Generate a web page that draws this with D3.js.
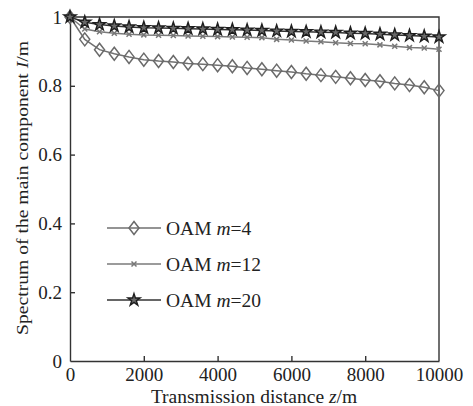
<!DOCTYPE html>
<html>
<head>
<meta charset="utf-8">
<script src="https://cdn.jsdelivr.net/npm/d3@7/dist/d3.min.js"></script>
<style>
  html, body { margin: 0; padding: 0; background: #fff; }
  svg { display: block; }
  text { font-family: "Liberation Serif", "DejaVu Serif", serif; fill: #222; }
</style>
</head>
<body>
<svg id="chart" width="473" height="406"></svg>
<script>
// Transmission distance (m), sampled every 400 m
const distances = d3.range(0, 10001, 400);

// Normalised spectrum of the main OAM component
const oam4 = [1.000, 0.935, 0.905, 0.893, 0.884, 0.876, 0.872, 0.869, 0.865, 0.863,
              0.860, 0.857, 0.852, 0.848, 0.844, 0.840, 0.835, 0.831, 0.826, 0.822,
              0.817, 0.813, 0.807, 0.802, 0.796, 0.786];
const oam12 = [1.000, 0.965, 0.957, 0.953, 0.950, 0.948, 0.947, 0.946, 0.945, 0.944,
               0.943, 0.942, 0.941, 0.940, 0.935, 0.933, 0.930, 0.928, 0.925, 0.923,
               0.922, 0.919, 0.915, 0.911, 0.910, 0.906];
const oam20 = [1.000, 0.985, 0.978, 0.974, 0.971, 0.969, 0.968, 0.967, 0.966, 0.965,
               0.964, 0.963, 0.962, 0.961, 0.959, 0.958, 0.957, 0.956, 0.955, 0.953,
               0.952, 0.950, 0.948, 0.946, 0.944, 0.942];

const xTicks = [0, 2000, 4000, 6000, 8000, 10000];
const yTicks = [0, 0.2, 0.4, 0.6, 0.8, 1];
const seriesNames = ["4", "12", "20"];

const svg = d3.select("#chart");
const x = d3.scaleLinear().domain([0, 10000]).range([70, 439]);
const y = d3.scaleLinear().domain([0, 1]).range([361, 17]);

const axisColor = "#333";
const tickFont = "19px";
const titleFont = "19.5px";

// Frame (top and right edges)
svg.append("path")
  .attr("d", `M${x(0)},${y(1)}H${x(10000)}V${y(0)}`)
  .attr("fill", "none").attr("stroke", axisColor).attr("stroke-width", 1.4);

// Bottom axis with inward ticks
const gx = svg.append("g").attr("transform", `translate(0,${y(0)})`)
  .call(d3.axisBottom(x).tickValues(xTicks).tickSizeInner(-5).tickSizeOuter(0)
        .tickPadding(7).tickFormat(d3.format("d")));
// Left axis with inward ticks
const gy = svg.append("g").attr("transform", `translate(${x(0)},0)`)
  .call(d3.axisLeft(y).tickValues(yTicks).tickSizeInner(-5).tickSizeOuter(0)
        .tickPadding(8).tickFormat(d => d === 0 || d === 1 ? d3.format("d")(d) : d3.format(".1f")(d)));

[gx, gy].forEach(g => {
  g.select(".domain").attr("stroke", axisColor).attr("stroke-width", 1.4);
  g.selectAll(".tick line").attr("stroke", axisColor).attr("stroke-width", 1.4);
  g.selectAll(".tick text").attr("font-family", "Liberation Serif").attr("font-size", tickFont).attr("fill", "#222");
});
gx.selectAll(".tick").filter(d => d === 0 || d === 10000).select("line").remove();
gy.selectAll(".tick").filter(d => d === 0 || d === 1).select("line").remove();

// Axis titles
const xt = svg.append("text").attr("x", 254).attr("y", 403)
  .attr("text-anchor", "middle").attr("font-size", titleFont);
xt.append("tspan").text("Transmission distance ");
xt.append("tspan").attr("font-style", "italic").text("z");
xt.append("tspan").text("/m");

const yt = svg.append("text").attr("transform", "translate(28,188) rotate(-90)")
  .attr("text-anchor", "middle").attr("font-size", "17.5px")
  .attr("textLength", 294).attr("lengthAdjust", "spacingAndGlyphs");
yt.append("tspan").text("Spectrum of the main component ");
yt.append("tspan").attr("font-style", "italic").text("I");
yt.append("tspan").text("/m");

// Marker shapes
const diamondPath = "M0,-6.5L5,0L0,6.5L-5,0Z";
const crossPath = "M-2.5,-2.5L2.5,2.5M-2.5,2.5L2.5,-2.5";
const starPath = d3.symbol().type(d3.symbolStar).size(46)();

const styles = [
  { values: oam4, line: "#707070", marker: diamondPath, mFill: "none", mStroke: "#6a6a6a", mWidth: 1.5 },
  { values: oam12, line: "#7a7a7a", marker: crossPath, mFill: "none", mStroke: "#777", mWidth: 1.5 },
  { values: oam20, line: "#333", marker: starPath, mFill: "#6a6a6a", mStroke: "#1e1e1e", mWidth: 1.4 }
];

const line = d3.line().x((d, i) => x(distances[i])).y(d => y(d));

styles.forEach(s => {
  svg.append("path").datum(s.values).attr("d", line)
    .attr("fill", "none").attr("stroke", s.line).attr("stroke-width", 1.5);
  svg.append("g").selectAll("path").data(s.values).join("path")
    .attr("transform", (d, i) => `translate(${x(distances[i])},${y(d)})`)
    .attr("d", s.marker).attr("fill", s.mFill)
    .attr("stroke", s.mStroke).attr("stroke-width", s.mWidth);
});

// Legend
const legendRows = [228, 264, 300];
styles.forEach((s, i) => {
  const g = svg.append("g").attr("transform", `translate(0,${legendRows[i]})`);
  g.append("line").attr("x1", 107).attr("x2", 161).attr("y1", 0).attr("y2", 0)
    .attr("stroke", s.line).attr("stroke-width", 1.5);
  g.append("path").attr("transform", "translate(134,0)").attr("d", s.marker)
    .attr("fill", s.mFill).attr("stroke", s.mStroke).attr("stroke-width", s.mWidth);
  const t = g.append("text").attr("x", 166).attr("y", 6.5).attr("font-size", titleFont);
  t.append("tspan").text("OAM ");
  t.append("tspan").attr("font-style", "italic").text("m");
  t.append("tspan").text("=" + seriesNames[i]);
});
</script>
</body>
</html>
